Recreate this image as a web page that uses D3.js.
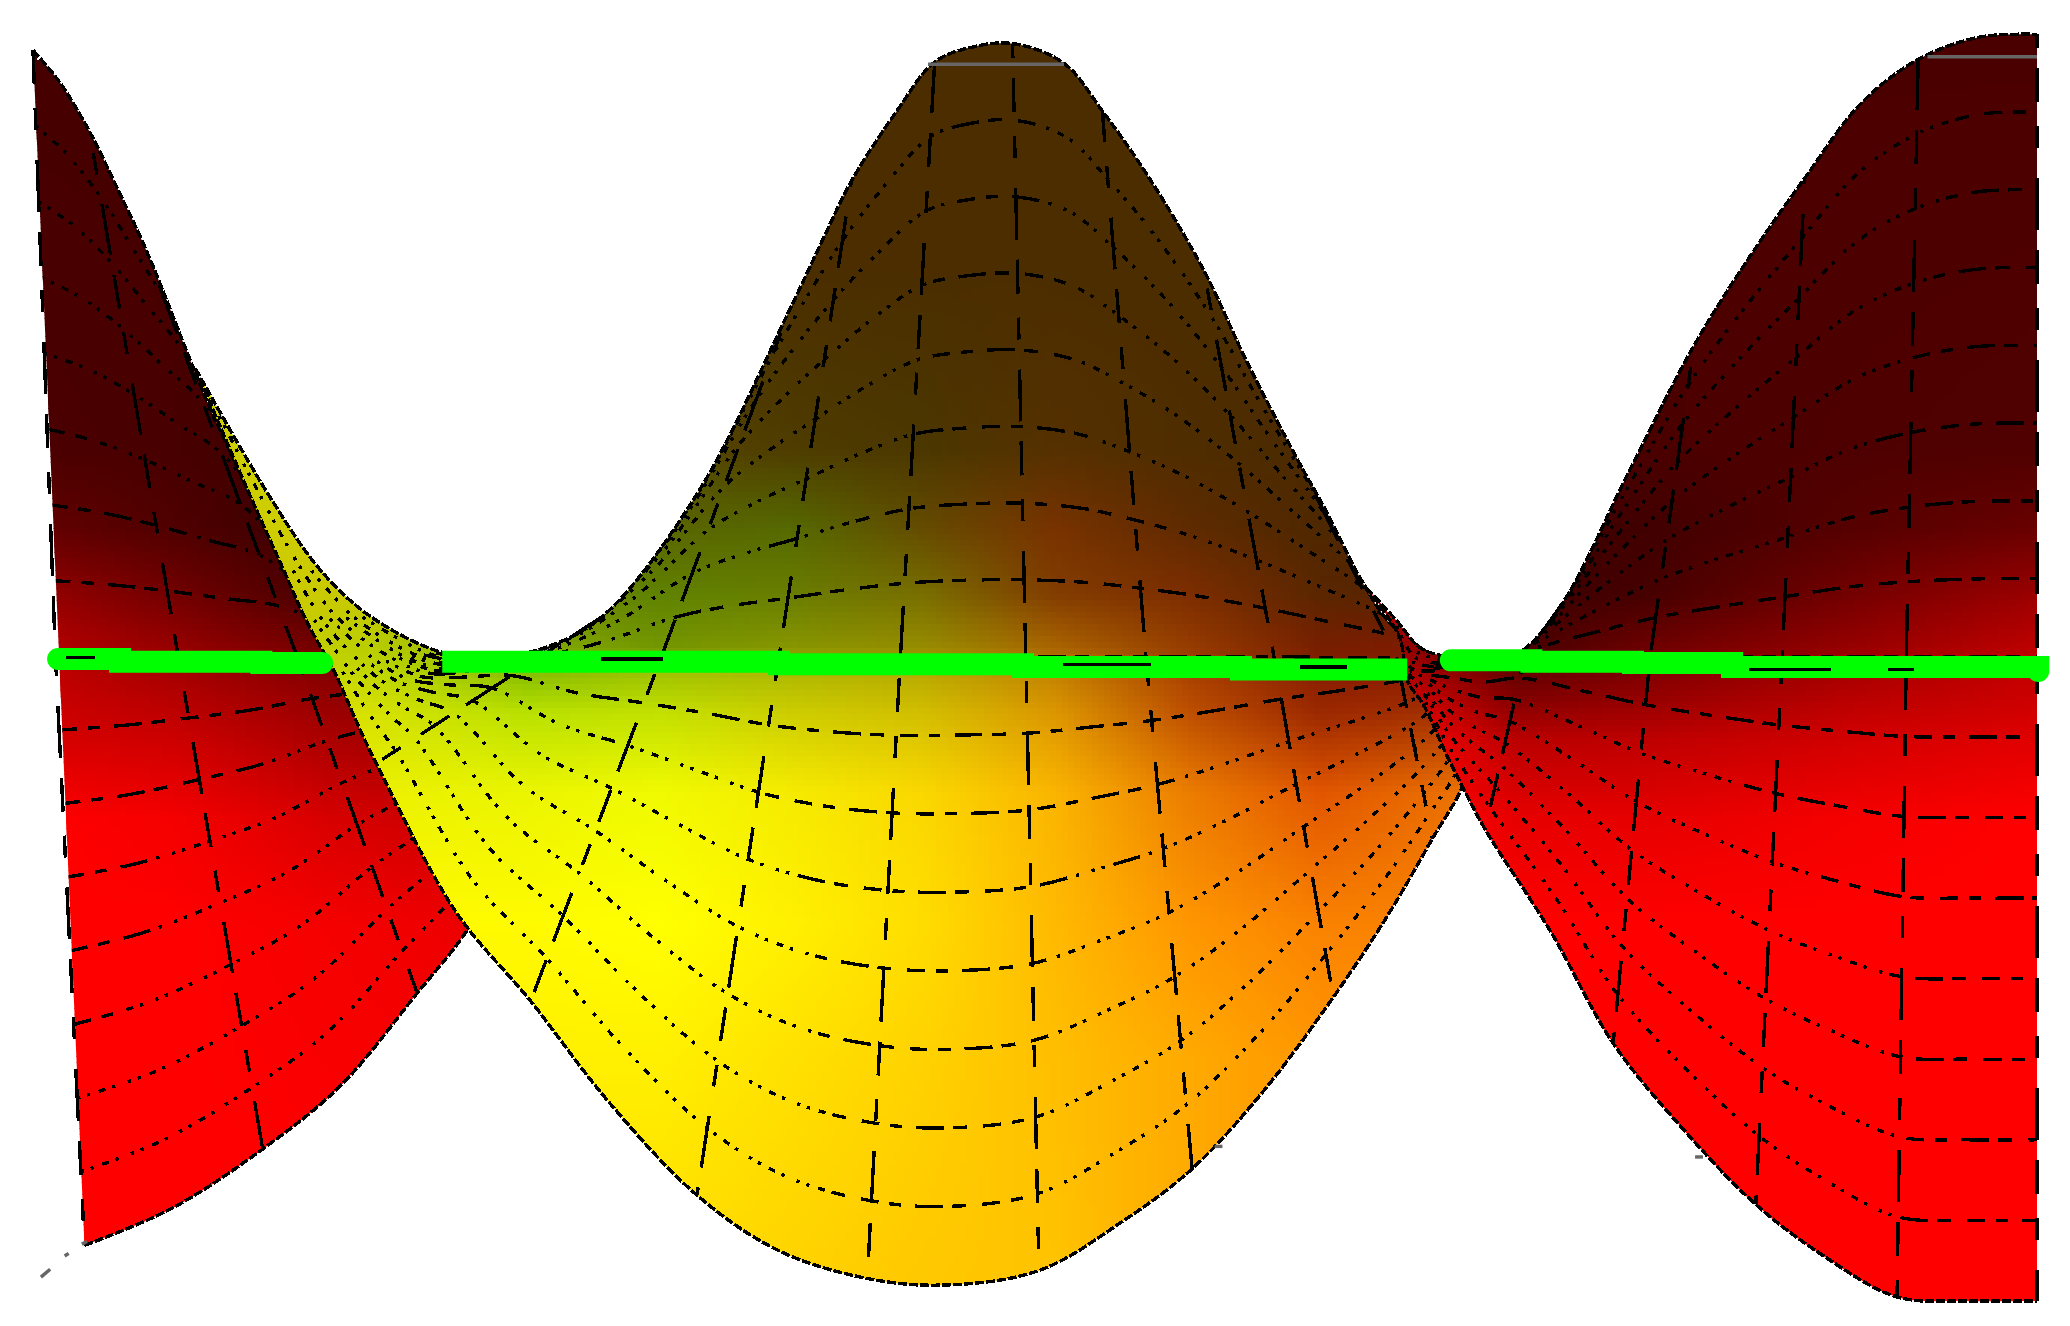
<!DOCTYPE html>
<html>
<head>
<meta charset="utf-8">
<script src="https://cdn.jsdelivr.net/npm/d3@7"></script>
<style>
html, body { margin: 0; padding: 0; background: #fff; }
svg { display: block; }
</style>
</head>
<body>
<svg id="graph"></svg>
<script>
// surface, in picture units (1568 x 1004)
// every sheet: top edge, crossing of the middle row, bottom edge of each column
var leftTopX = [25, 45, 68, 90, 111, 165, 215, 270, 330];
var leftTopY = [38, 62, 100, 145, 190, 322, 418, 480, 505];
var leftMidX = [42, 88, 135, 180, 225, 270, 317, 370, 410];
var leftMidY = [497, 497, 497, 497, 497, 497, 497, 497, 497];
var leftBotX = [64, 130, 199, 258, 316, 352, 385, 415, 440];
var leftBotY = [943, 915, 870, 822, 752, 707, 650, 590, 515];
var leftGridCols = [0, 2, 4, 6];

var centerTopX = [148, 203, 243, 281, 335, 375, 411, 456, 528, 597, 623, 645, 678, 708, 735, 767, 806, 835, 870, 912, 945, 985, 1004, 1030, 1053, 1083];
var centerTopY = [279, 374, 432, 467, 494, 497, 491, 467, 374, 237, 182, 137, 86, 47, 36, 33, 48, 84, 134, 205, 275, 352, 386, 437, 472, 495];
var centerMidX = [148, 196, 229, 256, 298, 327, 362, 402, 450, 500, 545, 590, 636, 682, 728, 777, 823, 868, 915, 965, 1012, 1058, 1075, 1083, 1088, 1090];
var centerMidY = [279, 373, 432, 468, 499, 510, 507, 502, 501, 500, 498, 498, 498, 498, 497, 497, 497, 497, 497, 497, 498, 498, 499, 500, 500, 499];
var centerBotX = [148, 188, 215, 232, 254, 262, 273, 285, 345, 402, 460, 528, 590, 657, 715, 787, 850, 903, 958, 1010, 1050, 1085, 1110, 1115, 1105, 1092];
var centerBotY = [279, 372, 432, 470, 510, 528, 553, 578, 690, 758, 833, 905, 947, 968, 973, 962, 925, 885, 825, 755, 695, 635, 590, 550, 525, 503];
var centerGridCols = [7, 9, 11, 13, 15, 17, 19, 21];

var rightTopX = [1035, 1058, 1075, 1090, 1115, 1149, 1182, 1235, 1283, 1325, 1367, 1410, 1453, 1500, 1543];
var rightTopY = [445, 470, 490, 496, 499, 495, 459, 355, 262, 195, 135, 78, 45, 28, 26];
var rightMidX = [1035, 1058, 1068, 1085, 1100, 1125, 1155, 1202, 1250, 1300, 1350, 1397, 1444, 1492, 1543];
var rightMidY = [445, 478, 505, 508, 505, 505, 497, 497, 497, 497, 497, 497, 497, 497, 497];
var rightBotX = [1035, 1060, 1066, 1079, 1095, 1108, 1125, 1175, 1222, 1275, 1330, 1380, 1437, 1490, 1543];
var rightBotY = [445, 482, 515, 535, 570, 596, 628, 706, 790, 855, 912, 950, 982, 985, 985];
var rightGridCols = [6, 8, 10, 12, 14];

var rowLevels = [0, 1, 2, 3, 4, 5, 6, 7, 8, 9, 10, 11, 12, 13, 14, 15, 16];

// colour samples (red / green channel) per sheet
var leftColorX = [25, 130, 250, 450];
var leftColorY = [30, 340, 400, 450, 500, 560, 620, 700, 950];
var leftRed = [
    [70, 70, 70, 70],
    [75, 72, 60, 60],
    [100, 80, 55, 50],
    [150, 115, 70, 60],
    [190, 160, 125, 110],
    [215, 205, 170, 150],
    [255, 245, 215, 190],
    [255, 255, 245, 230],
    [255, 255, 255, 255]
];
var leftGreen = leftRed.map(function (r) { return r.map(function () { return 0; }); });

var centerColorX = [150, 280, 400, 500, 600, 700, 800, 900, 1000, 1110];
var centerColorY = [30, 200, 340, 400, 450, 490, 510, 540, 600, 700, 800, 970];
var centerRed = [
    [205, 205, 75, 75, 75, 75, 75, 75, 75, 75],
    [205, 205, 75, 75, 75, 75, 75, 75, 75, 75],
    [205, 205, 110, 85, 78, 75, 85, 78, 75, 75],
    [205, 205, 110, 90, 85, 100, 120, 95, 78, 75],
    [205, 200, 110, 95, 105, 120, 130, 125, 90, 85],
    [210, 185, 130, 115, 135, 150, 170, 150, 120, 130],
    [215, 195, 135, 160, 175, 185, 195, 170, 135, 145],
    [225, 215, 185, 195, 205, 210, 220, 190, 155, 165],
    [235, 235, 235, 240, 245, 250, 250, 235, 225, 235],
    [255, 255, 255, 255, 255, 255, 255, 255, 250, 250],
    [255, 255, 255, 255, 255, 255, 255, 255, 255, 255],
    [255, 255, 255, 255, 255, 255, 255, 255, 255, 255]
];
var centerGreen = [
    [205, 205, 60, 55, 45, 45, 45, 45, 45, 45],
    [205, 205, 60, 55, 45, 45, 45, 45, 45, 45],
    [205, 205, 130, 70, 60, 55, 48, 45, 42, 40],
    [205, 205, 130, 100, 105, 75, 50, 42, 40, 38],
    [205, 200, 130, 130, 125, 110, 60, 45, 38, 35],
    [210, 205, 170, 150, 150, 140, 100, 60, 30, 25],
    [215, 215, 190, 195, 185, 170, 130, 65, 30, 25],
    [225, 225, 225, 225, 205, 190, 150, 80, 40, 50],
    [235, 240, 245, 250, 235, 215, 180, 125, 85, 115],
    [250, 250, 250, 255, 240, 220, 185, 150, 130, 130],
    [240, 240, 240, 240, 225, 210, 190, 170, 150, 150],
    [220, 220, 220, 220, 210, 200, 195, 170, 150, 150]
];

var rightColorX = [1030, 1090, 1150, 1250, 1400, 1545];
var rightColorY = [30, 340, 400, 450, 490, 530, 560, 620, 700, 990];
var rightRed = [
    [75, 75, 75, 75, 75, 75],
    [75, 75, 75, 75, 78, 80],
    [200, 75, 65, 65, 85, 105],
    [210, 150, 60, 70, 115, 155],
    [190, 120, 70, 110, 150, 190],
    [225, 190, 130, 150, 185, 205],
    [245, 230, 185, 190, 210, 225],
    [255, 255, 230, 230, 245, 255],
    [255, 255, 255, 255, 255, 255],
    [255, 255, 255, 255, 255, 255]
];
var rightGreen = rightRed.map(function (r) { return r.map(function () { return 0; }); });

// green line, broken where the two folds cover it
var greenLeftX = [44, 91, 198, 244];
var greenLeftY = [499, 501, 502, 502];
var greenMidX = [335, 590, 775, 940, 1066];
var greenMidY = [501, 503, 505, 507, 507];
var greenRightX = [1099, 1160, 1237, 1312, 1544];
var greenRightY = [500, 501, 502, 505, 508];

// the few bits of the middle row that show on the green line
var greenDashStart = [50, 455, 805, 985, 1325, 1430];
var greenDashEnd = [72, 502, 872, 1020, 1387, 1450];
var greenDashY = [498, 499, 503, 505, 507, 507];

// grey axis leftovers
var greyX = [[703, 806], [1460, 1543], [31, 38], [49, 52], [62, 66], [920, 926], [1284, 1290]];
var greyY = [[48.6, 48.6], [43, 43], [967, 961], [951, 949], [942, 940], [868, 868], [876, 876]];

var width = 2070, height = 1326;
var x = d3.scaleLinear().domain([0, 1568]).range([0, width]);
var y = d3.scaleLinear().domain([0, 1004]).range([0, height]);

var svg = d3.select("svg")
    .attr("width", width)
    .attr("height", height);

var colorField = function (xs, ys, rows) {
    var rowScales = rows.map(function (r) {
        return d3.scaleLinear().domain(xs).range(r).clamp(true);
    });
    return function (px, py) {
        var vals = rowScales.map(function (s) { return s(px); });
        return d3.scaleLinear().domain(ys).range(vals).clamp(true)(py);
    };
};

var line = d3.line()
    .x(function (d) { return x(d[0]); })
    .y(function (d) { return y(d[1]); });

var rowLine = d3.line()
    .x(function (d) { return x(d[0]); })
    .y(function (d) { return y(d[1]); })
    .curve(d3.curveCatmullRom.alpha(0.5));

// the reference lines are not antialiased: flat runs read as long dashes, diagonal runs as dots
var flatDash = [18, 12, 28, 14];
var flatGap = [11, 14, 9, 16];
var diagDash = [3.4, 3.4, 7, 3.4];
var diagGap = [7, 9, 7, 13];

var dashFor = function (node) {
    var total = node.getTotalLength(), pos = 0, k = 0, pattern = [];
    while (pos < total) {
        var a = node.getPointAtLength(Math.max(pos - 3, 0));
        var b = node.getPointAtLength(Math.min(pos + 3, total));
        var angle = Math.atan2(Math.abs(b.y - a.y), Math.abs(b.x - a.x)) * 180 / Math.PI;
        var diag = angle > 16 && angle < 74;
        var dash = diag ? diagDash[k % 4] : flatDash[k % 4];
        var gap = diag ? diagGap[k % 4] : flatGap[k % 4];
        pattern.push(dash, gap);
        pos += dash + gap;
        k++;
    }
    return pattern.join(" ");
};

var drawSheet = function (name, s) {
    var g = svg.append("g").attr("class", "sheet-" + name);
    var n = s.topX.length;

    var pointAt = function (i, level) {
        if (level <= 8) {
            return [s.topX[i] + (s.midX[i] - s.topX[i]) * level / 8,
                    s.topY[i] + (s.midY[i] - s.topY[i]) * level / 8];
        }
        return [s.midX[i] + (s.botX[i] - s.midX[i]) * (level - 8) / 8,
                s.midY[i] + (s.botY[i] - s.midY[i]) * (level - 8) / 8];
    };

    // near a fold the rows pile up, the reference only shows some of them there
    var firstCol = function (level) {
        if (level % 8 == 0 || !s.foldCol) return 0;
        if (level % 4 == 0) return s.foldCol - 2;
        if (level % 2 == 0) return s.foldCol - 1;
        return s.foldCol;
    };

    var topEdge = d3.range(n).map(function (i) { return [s.topX[i], s.topY[i]]; });
    var botEdge = d3.range(n - 1, -1, -1).map(function (i) { return [s.botX[i], s.botY[i]]; });
    var outlinePx = topEdge.concat(botEdge).map(function (p) { return [x(p[0]), y(p[1])]; });

    svg.append("clipPath").attr("id", "clip-" + name)
        .append("path")
        .attr("d", rowLine(topEdge) + "L" + rowLine(botEdge).slice(1) + "Z");

    // smooth shading: small cells clipped to the sheet
    var step = 6;
    var red = colorField(s.colorX, s.colorY, s.red);
    var green = colorField(s.colorX, s.colorY, s.green);
    var xExt = d3.extent(outlinePx, function (p) { return p[0]; });
    var yExt = d3.extent(outlinePx, function (p) { return p[1]; });
    var cells = [];
    for (var py = Math.floor(yExt[0] / step) * step - step; py < yExt[1] + step; py += step) {
        for (var px = Math.floor(xExt[0] / step) * step - step; px < xExt[1] + step; px += step) {
            var near = [[px - step, py - step], [px + 2 * step, py - step], [px - step, py + 2 * step],
                        [px + 2 * step, py + 2 * step], [px + step / 2, py + step / 2]]
                .some(function (c) { return d3.polygonContains(outlinePx, c); });
            if (near) cells.push([px, py]);
        }
    }
    g.append("g")
        .attr("clip-path", "url(#clip-" + name + ")")
        .selectAll("rect")
        .data(cells)
        .enter().append("rect")
        .attr("x", function (d) { return d[0]; })
        .attr("y", function (d) { return d[1]; })
        .attr("width", step + 0.5)
        .attr("height", step + 0.5)
        .attr("shape-rendering", "crispEdges")
        .attr("fill", function (d) {
            var cx = x.invert(d[0] + step / 2), cy = y.invert(d[1] + step / 2);
            return "rgb(" + Math.round(red(cx, cy)) + "," + Math.round(green(cx, cy)) + ",0)";
        });

    // rows of the mesh, the inner ones stay inside the sheet
    g.selectAll(".row")
        .data(rowLevels)
        .enter().append("path")
        .attr("class", "row")
        .attr("fill", "none")
        .attr("stroke", "#000")
        .attr("stroke-width", 3.4)
        .attr("shape-rendering", "crispEdges")
        .attr("clip-path", function (level) {
            return (level == 0 || level == 16) ? null : "url(#clip-" + name + ")";
        })
        .attr("d", function (level) {
            return rowLine(d3.range(firstCol(level), n).map(function (i) { return pointAt(i, level); }));
        })
        .attr("stroke-dasharray", function (level) {
            return (level == 0 || level == 16) ? "9 2" : dashFor(this);
        });

    // columns of the mesh
    g.selectAll(".col")
        .data(s.gridCols)
        .enter().append("path")
        .attr("class", "col")
        .attr("fill", "none")
        .attr("stroke", "#000")
        .attr("stroke-width", 3.4)
        .attr("shape-rendering", "crispEdges")
        .attr("stroke-dasharray", "34 24 22 30 52 20")
        .attr("stroke-dashoffset", function (d, i) { return i * 37; })
        .attr("d", function (i) {
            return line([pointAt(i, 0), pointAt(i, 8), pointAt(i, 16)]);
        });
};

drawSheet("left", {
    topX: leftTopX, topY: leftTopY, midX: leftMidX, midY: leftMidY, botX: leftBotX, botY: leftBotY, foldCol: 0,
    gridCols: leftGridCols, colorX: leftColorX, colorY: leftColorY, red: leftRed, green: leftGreen
});
drawSheet("center", {
    topX: centerTopX, topY: centerTopY, midX: centerMidX, midY: centerMidY, botX: centerBotX, botY: centerBotY, foldCol: 4,
    gridCols: centerGridCols, colorX: centerColorX, colorY: centerColorY, red: centerRed, green: centerGreen
});
drawSheet("right", {
    topX: rightTopX, topY: rightTopY, midX: rightMidX, midY: rightMidY, botX: rightBotX, botY: rightBotY, foldCol: 3,
    gridCols: rightGridCols, colorX: rightColorX, colorY: rightColorY, red: rightRed, green: rightGreen
});

// green line on top
var stepLine = d3.line()
    .x(function (d) { return x(d[0]); })
    .y(function (d) { return y(d[1]); })
    .curve(d3.curveStepAfter);

var greenParts = [
    {xs: greenLeftX, ys: greenLeftY, cap: "round"},
    {xs: greenMidX, ys: greenMidY, cap: "butt"},
    {xs: greenRightX, ys: greenRightY, cap: "round"}
];
svg.selectAll(".green")
    .data(greenParts)
    .enter().append("path")
    .attr("class", "green")
    .attr("fill", "none")
    .attr("stroke", "#00ff00")
    .attr("stroke-width", 22)
    .attr("stroke-linecap", function (d) { return d.cap; })
    .attr("d", function (d) { return stepLine(d3.zip(d.xs, d.ys)); });

svg.selectAll(".greenDash")
    .data(greenDashStart)
    .enter().append("path")
    .attr("class", "greenDash")
    .attr("fill", "none")
    .attr("stroke", "#000")
    .attr("stroke-width", 3.4)
    .attr("shape-rendering", "crispEdges")
    .attr("d", function (d, i) {
        return line([[d, greenDashY[i]], [greenDashEnd[i], greenDashY[i]]]);
    });

svg.selectAll(".grey")
    .data(greyX)
    .enter().append("path")
    .attr("class", "grey")
    .attr("fill", "none")
    .attr("stroke", "#666")
    .attr("stroke-width", 3.4)
    .attr("d", function (d, i) { return line(d3.zip(d, greyY[i])); });
</script>
</body>
</html>
